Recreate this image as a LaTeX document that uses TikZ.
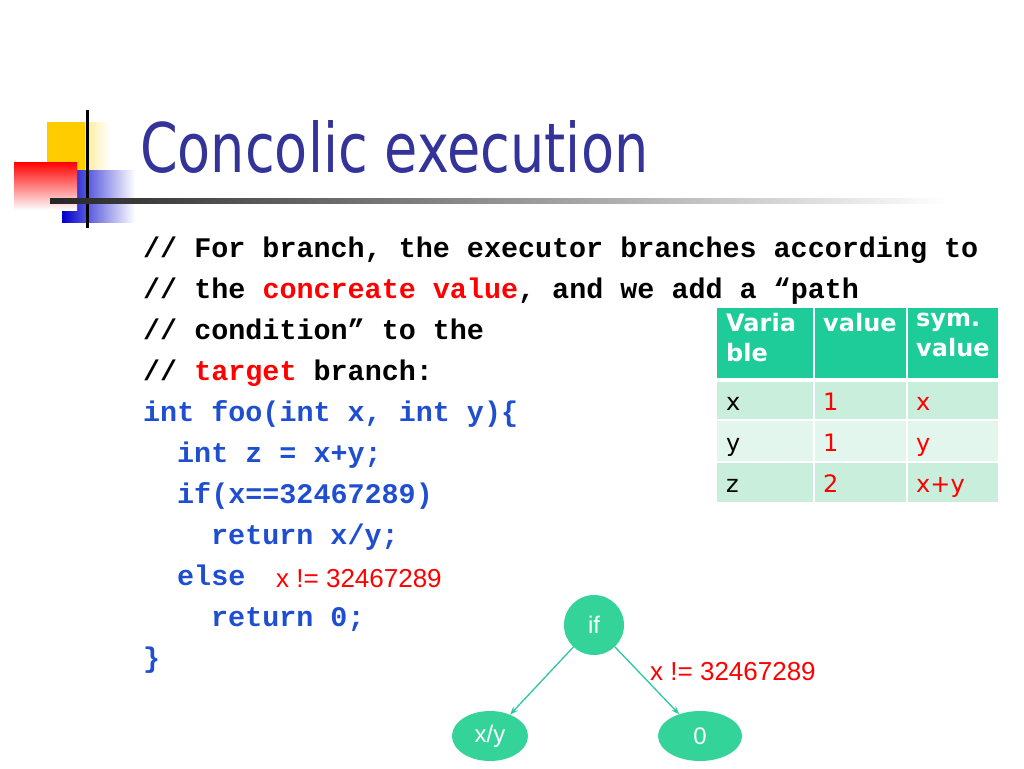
\documentclass[tikz,border=0pt]{standalone}
\usepackage{fontspec}
\setmainfont{DejaVu Sans}
\newfontfamily\codefont{Liberation Mono}
\newfontfamily\arialf{Liberation Sans}
\usetikzlibrary{arrows.meta,shapes.geometric}
\definecolor{titleblue}{HTML}{333399}
\definecolor{codeblue}{HTML}{1F4FD0}
\definecolor{teal}{HTML}{1DCC99}
\definecolor{rowa}{HTML}{C9EEDC}
\definecolor{rowb}{HTML}{E3F6ED}
\definecolor{nodegreen}{HTML}{33D39A}
\definecolor{edgec}{HTML}{2CC7A4}
\definecolor{logoyellow}{HTML}{FFCC00}
\tikzset{
  code/.style={anchor=base west,inner sep=0pt,font=\codefont\bfseries\fontsize{28.4}{30}\selectfont},
  cell/.style={anchor=north west,inner sep=0pt,font=\fontsize{24}{30}\selectfont\bfseries,text=white,align=left},
  celld/.style={anchor=base west,inner sep=0pt,font=\fontsize{24}{28}\selectfont},
  tnode/.style={fill=nodegreen,text=white,font=\arialf\fontsize{24}{26}\selectfont},
  edge/.style={draw=edgec,line width=1.3pt,-{Stealth[length=8pt]}},
  red label/.style={text=red,font=\arialf\fontsize{26}{28}\selectfont,anchor=base west,inner sep=0pt}
}
\begin{document}
\begin{tikzpicture}[x=1pt,y=-1pt]
\useasboundingbox (0,0) rectangle (1024,768);
% logo
\shade[left color=logoyellow, right color=white] (47,122) rectangle (110,190);
\fill[logoyellow] (47,122) rectangle (85,190);
\shade[left color=blue!80!black, right color=white] (62,170) rectangle (135,222);
\shade[shading=axis, shading angle=135, top color=red, bottom color=white] (14,162) rectangle (77,210);
\draw[line width=3pt] (87,110) -- (87,228);
\shade[left color=black!85, right color=white] (50,198) rectangle (950,203);
\node[anchor=base west,inner sep=0pt,text=titleblue] (title) at (140,172)
  {\resizebox{508pt}{52pt}{\fontsize{60}{60}\selectfont Concolic execution}};
% code
\node[code] (c1) at (143,257) {// For branch, the executor branches according to};
\node[code] (c2) at (143,298) {// the \textcolor{red}{concreate value}, and we add a “path};
\node[code] (c3) at (143,339) {// condition” to the};
\node[code] (c4) at (143,380) {// \textcolor{red}{target} branch:};
\node[code,text=codeblue] (c5) at (143,421) {int foo(int x, int y)\{};
\node[code,text=codeblue] (c6) at (177,462) {int z = x+y;};
\node[code,text=codeblue] (c7) at (177,503) {if(x==32467289)};
\node[code,text=codeblue] (c8) at (211,544) {return x/y;};
\node[code,text=codeblue] (c9) at (177,585) {else};
\node[code,text=codeblue] (c10) at (211,626) {return 0;};
\node[code,text=codeblue] (c11) at (143,667) {\}};
\node[red label] (l1) at (276,587) {x != 32467289};
% table
\fill[teal] (717,308) rectangle (998,378);
\fill[rowa] (717,382) rectangle (998,420);
\fill[rowb] (717,420) rectangle (998,462);
\fill[rowa] (717,462) rectangle (998,502);
\draw[white,line width=2pt] (814,308) -- (814,502) (907,308) -- (907,502)
  (717,380) -- (998,380) (717,420) -- (998,420) (717,462) -- (998,462);
\node[cell] (h1) at (726,313) {Varia\\ble};
\node[cell] (h2) at (823,313) {value};
\node[cell] (h3) at (916,313) {sym.\\value};
\node[celld] (x1) at (726,410) {x};
\node[celld,text=red] (x2) at (823,410) {1};
\node[celld,text=red] (x3) at (916,410) {x};
\node[celld] (y1) at (726,451) {y};
\node[celld,text=red] (y2) at (823,451) {1};
\node[celld,text=red] (y3) at (916,451) {y};
\node[celld] (z1) at (726,492) {z};
\node[celld,text=red] (z2) at (823,492) {2};
\node[celld,text=red] (z3) at (916,492) {x+y};
% tree
\node[tnode,circle,minimum size=60pt,inner sep=0pt] (if) at (594,625) {if};
\node[tnode,ellipse,minimum width=76pt,minimum height=50pt,inner sep=0pt] (xy) at (490,736) {x/y};
\node[tnode,ellipse,minimum width=84pt,minimum height=50pt,inner sep=0pt] (zero) at (700,736) {0};
\draw[edge] (if) -- (xy);
\draw[edge] (if) -- (zero);
\node[red label] (l2) at (650,680) {x != 32467289};
\end{tikzpicture}
\end{document}
